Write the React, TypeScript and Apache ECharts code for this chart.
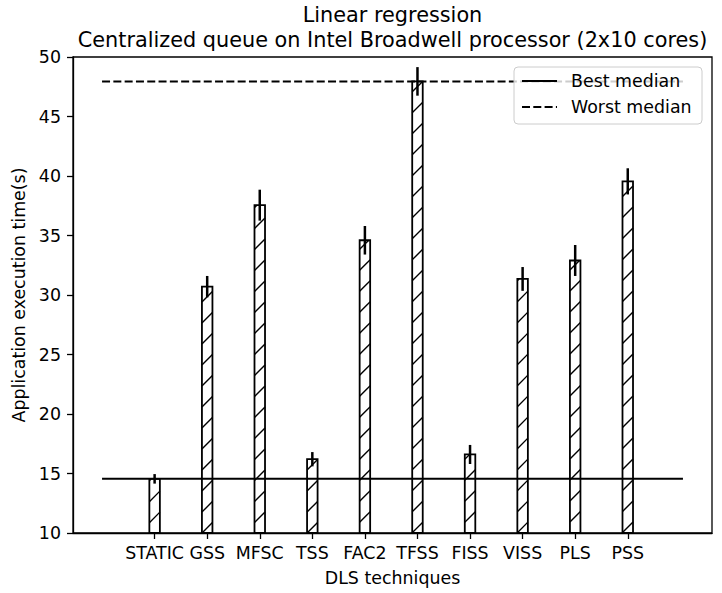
import React, { useEffect, useRef } from "react";
import * as echarts from "echarts";

const categories = ["STATIC", "GSS", "MFSC", "TSS", "FAC2", "TFSS", "FISS", "VISS", "PLS", "PSS"];
const medians = [14.55, 30.7, 37.55, 16.2, 34.6, 47.95, 16.6, 31.35, 32.9, 39.55];
const errors = [0.4, 0.9, 1.3, 0.6, 1.2, 1.2, 0.8, 1.0, 1.3, 1.1];
const yTicks = [10, 15, 20, 25, 30, 35, 40, 45, 50];
const legendLabels = ["Best median", "Worst median"];

const FONT = "DejaVu Sans";
const FS = 17.4;

export default function App() {
  const ref = useRef<HTMLDivElement>(null);
  useEffect(() => {
    document.body.style.margin = "0";
    if (!ref.current) return;
    const chart = echarts.init(ref.current, undefined, { renderer: "svg" });
    const best = Math.min(...medians);
    const worst = Math.max(...medians);
    const barData = categories.map((_, i) => [i, medians[i], errors[i]]);
    const HATCH = 21;
    const LX = 514;
    const LY = 67;
    const option: any = {
      animation: false,
      textStyle: { fontFamily: FONT },
      title: {
        text: "Linear regression\nCentralized queue on Intel Broadwell processor (2x10 cores)",
        left: 392.5,
        top: 2,
        padding: 0,
        textAlign: "center",
        textStyle: { fontFamily: FONT, fontSize: 20.8, fontWeight: "normal", color: "#000", lineHeight: 25 },
      },
      grid: {
        left: 73,
        right: 10,
        top: 57,
        bottom: 60,
        show: true,
        borderColor: "#000",
        borderWidth: 1.3,
        backgroundColor: "transparent",
      },
      xAxis: {
        type: "value",
        min: -1.5525,
        max: 10.6025,
        name: "DLS techniques",
        nameLocation: "middle",
        nameGap: 36,
        nameTextStyle: { fontFamily: FONT, fontSize: FS, color: "#000" },
        axisLine: { show: true, onZero: false, lineStyle: { color: "#000", width: 1.3 } },
        axisTick: { show: true, length: 6, lineStyle: { color: "#000", width: 1.3 }, customValues: categories.map((_, i) => i) },
        axisLabel: {
          fontFamily: FONT,
          fontSize: FS,
          color: "#000",
          margin: 11,
          customValues: categories.map((_, i) => i),
          formatter: (v: number) => categories[Math.round(v)] ?? "",
        },
        splitLine: { show: false },
      },
      yAxis: {
        type: "value",
        min: 10,
        max: 50,
        interval: 5,
        name: "Application execution time(s)",
        nameLocation: "middle",
        nameGap: 42,
        nameTextStyle: { fontFamily: FONT, fontSize: FS, color: "#000" },
        axisLine: { show: true, onZero: false, lineStyle: { color: "#000", width: 1.3 } },
        axisTick: { show: true, length: 6, lineStyle: { color: "#000", width: 1.3 } },
        axisLabel: {
          fontFamily: FONT,
          fontSize: FS,
          color: "#000",
          margin: 12,
          customValues: yTicks,
        },
        splitLine: { show: false },
      },
      graphic: [
        {
          type: "rect",
          z: 100,
          shape: { x: LX, y: LY, width: 188, height: 57, r: 4 },
          style: { fill: "rgba(255,255,255,0.8)", stroke: "#cccccc", lineWidth: 1 },
        },
        {
          type: "line",
          z: 101,
          shape: { x1: LX + 8, y1: LY + 14, x2: LX + 43, y2: LY + 14 },
          style: { stroke: "#000", lineWidth: 2 },
        },
        {
          type: "line",
          z: 101,
          shape: { x1: LX + 8, y1: LY + 40, x2: LX + 43, y2: LY + 40 },
          style: { stroke: "#000", lineWidth: 2, lineDash: [8, 3.3] },
        },
        {
          type: "text",
          z: 101,
          x: LX + 57,
          y: LY + 14,
          style: { text: legendLabels[0], fontFamily: FONT, fontSize: FS, fill: "#000", verticalAlign: "middle", align: "left" },
        },
        {
          type: "text",
          z: 101,
          x: LX + 57,
          y: LY + 40,
          style: { text: legendLabels[1], fontFamily: FONT, fontSize: FS, fill: "#000", verticalAlign: "middle", align: "left" },
        },
      ],
      series: [
        {
          type: "custom",
          name: "bars",
          z: 2,
          data: barData,
          renderItem: (params: any, api: any) => {
            const x = api.value(0);
            const v = api.value(1);
            const e = api.value(2);
            const tl = api.coord([x - 0.1, v]);
            const br = api.coord([x + 0.1, 10]);
            const x0 = tl[0], y0 = tl[1], x1 = br[0], y1 = br[1];
            const children: any[] = [
              { type: "rect", shape: { x: x0, y: y0, width: x1 - x0, height: y1 - y0 }, style: { fill: "#fff", stroke: null } },
            ];
            const cStart = Math.ceil((x0 + y0) / HATCH) * HATCH;
            for (let c = cStart; c <= x1 + y1; c += HATCH) {
              const xa = Math.max(x0, c - y1);
              const xb = Math.min(x1, c - y0);
              if (xb > xa) {
                children.push({
                  type: "line",
                  shape: { x1: xa, y1: c - xa, x2: xb, y2: c - xb },
                  style: { stroke: "#000", lineWidth: 1.4 },
                });
              }
            }
            children.push({
              type: "rect",
              shape: { x: x0, y: y0, width: x1 - x0, height: y1 - y0 },
              style: { fill: null, stroke: "#000", lineWidth: 1.8 },
            });
            const eTop = api.coord([x, v + e]);
            const eBot = api.coord([x, v - e]);
            children.push({
              type: "line",
              shape: { x1: eTop[0], y1: eTop[1], x2: eBot[0], y2: eBot[1] },
              style: { stroke: "#000", lineWidth: 2.5 },
              z2: 10,
            });
            return { type: "group", children };
          },
        },
        {
          type: "line",
          name: legendLabels[0],
          z: 3,
          symbol: "none",
          data: [[-1, best], [10.05, best]],
          lineStyle: { color: "#000", width: 2, type: "solid" },
          itemStyle: { color: "#000" },
        },
        {
          type: "line",
          name: legendLabels[1],
          z: 3,
          symbol: "none",
          data: [[-1, worst], [10.05, worst]],
          lineStyle: { color: "#000", width: 2, type: [8, 3.3] },
          itemStyle: { color: "#000" },
        },
      ],
    };
    chart.setOption(option);
    return () => chart.dispose();
  }, []);
  return <div ref={ref} style={{ width: 722, height: 593 }} />;
}
